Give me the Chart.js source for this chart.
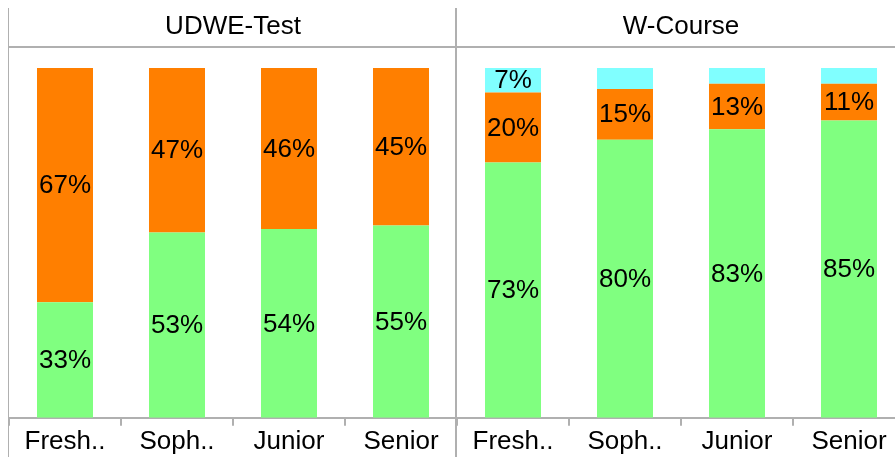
<!DOCTYPE html>
<html>
<head>
<meta charset="utf-8">
<script src="https://cdn.jsdelivr.net/npm/chart.js@4"></script>
<style>
  html, body { margin: 0; padding: 0; background: #fff; overflow: hidden; }
  #wrap { position: relative; width: 895px; height: 457px; overflow: hidden; }
  #leftBox { position: absolute; left: 0; top: 0; width: 457px; height: 457px; }
  #rightBox { position: absolute; left: 455px; top: 0; width: 450px; height: 457px; }
</style>
</head>
<body>
<div id="wrap">
  <div id="leftBox"><canvas id="leftChart"></canvas></div>
  <div id="rightBox"><canvas id="rightChart"></canvas></div>
</div>
<script>
const categories = ['Fresh..', 'Soph..', 'Junior', 'Senior'];
const panelTitles = ['UDWE-Test', 'W-Course'];

// UDWE-Test
const udweGreen = [33, 53, 54, 55];
const udweOrange = [67, 47, 46, 45];
const udweCyan = [0, 0, 0, 0];

// W-Course
const wcGreen = [73, 79.5, 82.5, 85];
const wcOrange = [20, 14.5, 13, 10.5];
const wcCyan = [7, 6, 4.5, 4.5];

const GREEN = '#80ff80';
const ORANGE = '#ff7f00';
const CYAN = '#80ffff';
const LINE = '#b0b0b0';
const FONT = 'Liberation Sans, Arial, sans-serif';
const FSIZE = 26;

// draws the header, frame lines and the % labels
const panelPlugin = {
  id: 'panel',
  afterDraw(chart, args, opts) {
    const ctx = chart.ctx;
    const area = chart.chartArea;
    ctx.save();
    ctx.strokeStyle = LINE;

    // header line
    ctx.lineWidth = 2;
    ctx.beginPath();
    ctx.moveTo(opts.leftLine ? area.left : 0, 47);
    ctx.lineTo(chart.width, 47);
    ctx.stroke();

    // left edge line
    if (opts.leftLine) {
      ctx.lineWidth = 1;
      ctx.beginPath();
      ctx.moveTo(area.left - 0.5, 8);
      ctx.lineTo(area.left - 0.5, chart.height);
      ctx.stroke();
    }
    // divider
    if (opts.divider) {
      ctx.lineWidth = 2;
      ctx.beginPath();
      ctx.moveTo(area.left - 1, 8);
      ctx.lineTo(area.left - 1, chart.height);
      ctx.stroke();
    }

    // title
    ctx.fillStyle = '#000';
    ctx.font = FSIZE + 'px ' + FONT;
    ctx.textAlign = 'center';
    ctx.textBaseline = 'middle';
    ctx.fillText(opts.title, (area.left + area.right) / 2, 27);

    // value labels
    chart.data.datasets.forEach((ds, i) => {
      const meta = chart.getDatasetMeta(i);
      meta.data.forEach((bar, j) => {
        const v = ds.data[j];
        if (v < 7) return;
        ctx.fillText(Math.round(v) + '%', bar.x, (bar.y + bar.base) / 2 + 1);
      });
    });
    ctx.restore();
  }
};

function makePanel(id, title, green, orange, cyan, leftPad, isRight) {
  return new Chart(document.getElementById(id), {
    type: 'bar',
    data: {
      labels: categories,
      datasets: [
        { label: 'green', data: green, backgroundColor: GREEN },
        { label: 'orange', data: orange, backgroundColor: ORANGE },
        { label: 'cyan', data: cyan, backgroundColor: CYAN }
      ]
    },
    options: {
      responsive: true,
      maintainAspectRatio: false,
      animation: false,
      layout: { padding: { left: leftPad, top: 48, right: 0, bottom: 0 } },
      datasets: { bar: { categoryPercentage: 1, barPercentage: 0.5 } },
      plugins: {
        legend: { display: false },
        tooltip: { enabled: false },
        panel: { title: title, leftLine: !isRight, divider: isRight }
      },
      scales: {
        x: {
          stacked: true,
          offset: true,
          grid: {
            offset: true,
            drawOnChartArea: false,
            drawTicks: true,
            tickLength: 8,
            color: LINE,
            lineWidth: 2
          },
          border: { display: true, color: LINE, width: 2 },
          ticks: {
            color: '#000',
            padding: 0,
            font: { family: FONT, size: FSIZE },
            maxRotation: 0,
            autoSkip: false
          }
        },
        y: {
          stacked: true,
          display: false,
          min: 0,
          max: 105.7
        }
      }
    },
    plugins: [panelPlugin]
  });
}

makePanel('leftChart', panelTitles[0], udweGreen, udweOrange, udweCyan, 9, false);
makePanel('rightChart', panelTitles[1], wcGreen, wcOrange, wcCyan, 2, true);
</script>
</body>
</html>
